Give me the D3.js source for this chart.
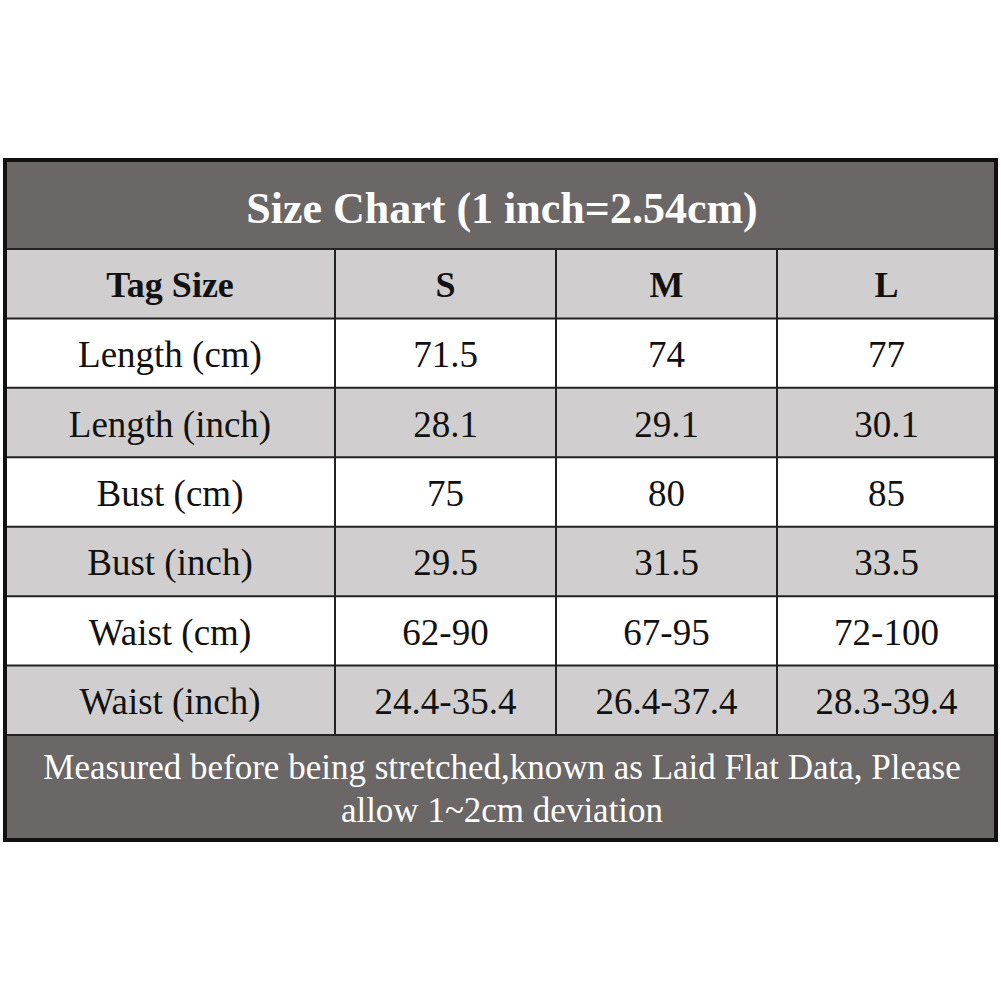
<!DOCTYPE html>
<html><head><meta charset="utf-8">
<script src="https://cdn.jsdelivr.net/npm/d3@7"></script>
<style>body{margin:0;background:#fff}</style>
</head><body><svg id="chart"></svg>
<script>
var title = "Size Chart (1 inch=2.54cm)";
var sizes = ["S", "M", "L"];
var rowLabels = ["Length (cm)", "Length (inch)", "Bust (cm)", "Bust (inch)", "Waist (cm)", "Waist (inch)"];
var sValues = ["71.5", "28.1", "75", "29.5", "62-90", "24.4-35.4"];
var mValues = ["74", "29.1", "80", "31.5", "67-95", "26.4-37.4"];
var lValues = ["77", "30.1", "85", "33.5", "72-100", "28.3-39.4"];
var footLines = ["Measured before being stretched,known as Laid Flat Data, Please", "allow 1~2cm deviation"];

var svg = d3.select("#chart").attr("width", 1001).attr("height", 1001);
var font = "'Liberation Serif', 'Times New Roman', serif";
var dark = "#6b6767", light = "#d0cece";

// column edges
var x = d3.scaleOrdinal().domain(["label"].concat(sizes)).range([5, 335, 556, 777]);
var colEnd = {label: 335, S: 556, M: 777, L: 996};
// rows: header + data
var rowKeys = ["head"].concat(rowLabels);
var y = d3.scaleBand().domain(rowKeys).range([249, 735]);

// title band
svg.append("rect").attr("x", 5).attr("y", 160).attr("width", 991).attr("height", 89).attr("fill", dark);
svg.append("text").attr("x", 502).attr("y", 208).attr("dy", "0.35em").attr("text-anchor", "middle")
  .attr("font-family", font).attr("font-weight", "bold").attr("font-size", 44).attr("fill", "#fff").text(title);

var table = [["Tag Size"].concat(sizes)];
rowLabels.forEach(function (r, i) { table.push([r, sValues[i], mValues[i], lValues[i]]); });
var cols = ["label"].concat(sizes);

table.forEach(function (row, ri) {
  var key = rowKeys[ri];
  svg.append("rect").attr("x", 5).attr("y", y(key)).attr("width", 991).attr("height", y.bandwidth())
    .attr("fill", ri % 2 === 0 ? light : "#fff");
  row.forEach(function (v, ci) {
    var c = cols[ci];
    svg.append("text").attr("x", (x(c) + colEnd[c]) / 2).attr("y", y(key) + y.bandwidth() / 2 + 1)
      .attr("dy", "0.35em").attr("text-anchor", "middle").attr("font-family", font)
      .attr("font-weight", ri === 0 ? "bold" : "normal").attr("font-size", ri === 0 ? 36 : 37)
      .attr("fill", "#111").text(v);
  });
});

// grid lines
rowKeys.forEach(function (k) {
  svg.append("line").attr("x1", 5).attr("x2", 996).attr("y1", y(k)).attr("y2", y(k))
    .attr("stroke", "#222").attr("stroke-width", 2);
});
svg.append("line").attr("x1", 5).attr("x2", 996).attr("y1", 735).attr("y2", 735).attr("stroke", "#222").attr("stroke-width", 2);
sizes.forEach(function (s) {
  svg.append("line").attr("x1", x(s)).attr("x2", x(s)).attr("y1", 249).attr("y2", 735)
    .attr("stroke", "#222").attr("stroke-width", 2);
});

// footer
svg.append("rect").attr("x", 5).attr("y", 736).attr("width", 991).attr("height", 104).attr("fill", dark);
svg.selectAll("text.foot").data(footLines).enter().append("text").attr("class", "foot")
  .attr("x", 502).attr("y", function (d, i) { return 767 + i * 43; }).attr("dy", "0.35em")
  .attr("text-anchor", "middle").attr("font-family", font).attr("font-size", 35).attr("fill", "#fff")
  .text(function (d) { return d; });

// outer border
svg.append("rect").attr("x", 5).attr("y", 160).attr("width", 991).attr("height", 680)
  .attr("fill", "none").attr("stroke", "#111").attr("stroke-width", 4);
</script></body></html>
